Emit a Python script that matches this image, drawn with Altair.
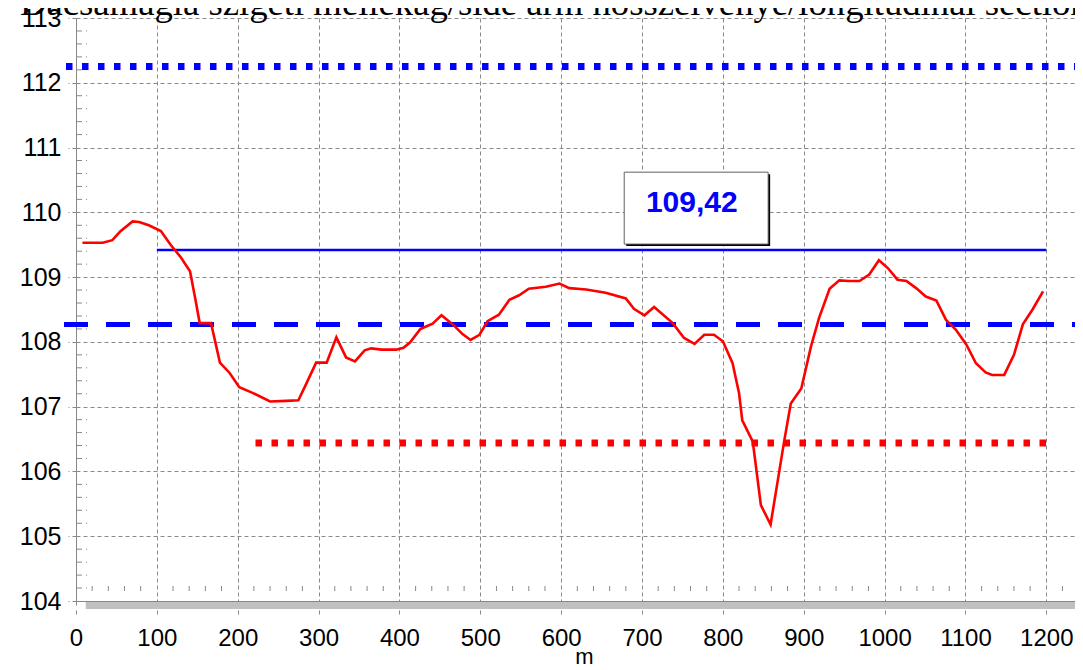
import altair as alt
import pandas as pd

TITLE = "Dacsamagla szigeti mellékág/side arm hosszelvénye/longitudinal section"

DIST = [8, 33, 45, 55, 70, 78, 90, 105, 117, 130, 141, 147, 153, 167, 178, 190,
        202, 219, 240, 260, 275, 285, 297, 310, 322, 334, 345, 357, 365, 378,
        396, 405, 413, 426, 441, 452, 466, 478, 488, 499, 509, 523, 536, 548,
        560, 581, 598, 610, 631, 655, 680, 690, 703, 715, 738, 752, 765, 777,
        789, 800, 812, 816, 820, 824, 837, 847, 859, 870, 876, 884, 897, 909,
        919, 932, 944, 956, 969, 981, 993, 1004, 1016, 1027, 1039, 1051, 1064,
        1076, 1088, 1101, 1113, 1125, 1133, 1148, 1160, 1171, 1183, 1196]
ELEV = [109.53, 109.53, 109.57, 109.71, 109.86, 109.85, 109.80, 109.71, 109.50,
        109.30, 109.09, 108.70, 108.29, 108.29, 107.68, 107.52, 107.30, 107.21,
        107.08, 107.09, 107.10, 107.36, 107.68, 107.68, 108.07, 107.76, 107.70,
        107.87, 107.90, 107.88, 107.88, 107.91, 107.99, 108.20, 108.28, 108.41,
        108.27, 108.12, 108.03, 108.11, 108.32, 108.42, 108.65, 108.72, 108.82,
        108.85, 108.90, 108.83, 108.81, 108.76, 108.67, 108.51, 108.41, 108.54,
        108.29, 108.06, 107.97, 108.11, 108.11, 108.01, 107.67, 107.44, 107.21,
        106.79, 106.46, 105.48, 105.18, 106.02, 106.48, 107.05, 107.28, 107.93,
        108.37, 108.82, 108.95, 108.94, 108.94, 109.04, 109.26, 109.14, 108.96,
        108.94, 108.83, 108.70, 108.64, 108.34, 108.19, 107.96, 107.67, 107.53,
        107.49, 107.49, 107.80, 108.27, 108.50, 108.78]

X_TICKS = list(range(0, 1201, 100))
Y_TICKS = list(range(104, 114))
X_MINOR = [v for v in range(20, 1235, 20) if v % 100]
Y_MINOR = [round(104 + i * 0.2, 1) for i in range(46) if i % 5]

BLUE_DOT = 112.25
BLUE_DASH = 108.27
BLUE_SOLID = 109.42
BLUE_SOLID_FROM, BLUE_SOLID_TO = 100, 1200
RED_DOT = 106.44
RED_DOT_FROM, RED_DOT_TO = 222, 1200
LABEL_TEXT = "109,42"
LABEL_X = 761.6
LABEL_Y = 110.15
BOX_X = [678, 856]
BOX_Y = [109.51, 110.62]
BAR_FROM = 12

W, H = 999, 583
X_MAX = 1235.5

xs = alt.Scale(domain=[0, X_MAX], nice=False, zero=False)
ys = alt.Scale(domain=[104, 113], nice=False, zero=False)

FONT = "Liberation Sans"
GRAY = "#888888"

x_axis = alt.Axis(values=X_TICKS, format="d", grid=True, gridColor=GRAY, gridDash=[4, 3],
                  gridWidth=1, domainColor=GRAY, domainWidth=1, tickColor=GRAY,
                  tickDash=[4, 5], tickSize=14, labelFont=FONT, labelFontSize=24,
                  labelColor="black", labelPadding=11, labelFlush=False, labelOverlap=False,
                  title="m", titleFont=FONT, titleFontSize=22, titleFontWeight="normal",
                  titleColor="black", titleX=508, titleY=62, titleBaseline="alphabetic",
                  titleAlign="center")
y_axis = alt.Axis(values=Y_TICKS, format="d", grid=True, gridColor=GRAY, gridDash=[4, 3],
                  gridWidth=1, domainColor=GRAY, domainWidth=1, tickColor=GRAY,
                  tickDash=[4, 3, 1, 3], tickSize=11, labelFont=FONT, labelFontSize=25,
                  labelColor="black", labelPadding=4, labelFlush=False, labelOverlap=False,
                  title=None)


def X(field):
    return alt.X(field, scale=xs, axis=x_axis)


def Y(field):
    return alt.Y(field, scale=ys, axis=y_axis)


profile = pd.DataFrame({"a": DIST, "v": ELEV})

bar = alt.Chart(pd.DataFrame({"a": [BAR_FROM], "b": [X_MAX]})).mark_rect(
    color="#c0c0c0").encode(
    x=X("a:Q"), x2="b:Q", y=alt.value(H + 1), y2=alt.value(H + 8))

xminor = alt.Chart(pd.DataFrame({"a": X_MINOR})).mark_rule(
    color=GRAY, strokeWidth=1).encode(
    x=X("a:Q"), y=alt.value(H - 15), y2=alt.value(H - 10))

yminor = alt.Chart(pd.DataFrame({"v": Y_MINOR})).mark_rule(
    color=GRAY, strokeWidth=1, strokeDash=[6, 4]).encode(
    y=Y("v:Q"), x=alt.value(0), x2=alt.value(11))

blue_dot = alt.Chart(pd.DataFrame({"v": [BLUE_DOT]})).mark_rule(
    color="#0000ff", strokeWidth=7, strokeDash=[6.5, 9.5], strokeCap="butt").encode(
    y=Y("v:Q"), x=alt.value(-10), x2=alt.value(W))

blue_dash = alt.Chart(pd.DataFrame({"v": [BLUE_DASH]})).mark_rule(
    color="#0000ff", strokeWidth=5, strokeDash=[24, 18], strokeCap="butt").encode(
    y=Y("v:Q"), x=alt.value(-12), x2=alt.value(W))

blue_solid = alt.Chart(pd.DataFrame({"a": [BLUE_SOLID_FROM], "b": [BLUE_SOLID_TO],
                                     "v": [BLUE_SOLID]})).mark_rule(
    color="#0000ff", strokeWidth=2.5).encode(
    x=X("a:Q"), x2="b:Q", y=Y("v:Q"))

red_dot = alt.Chart(pd.DataFrame({"a": [RED_DOT_FROM], "b": [RED_DOT_TO],
                                  "v": [RED_DOT]})).mark_rule(
    color="#ff0000", strokeWidth=7, strokeDash=[6.5, 9.5], strokeCap="butt").encode(
    x=X("a:Q"), x2="b:Q", y=Y("v:Q"))

line = alt.Chart(profile).mark_line(
    color="#ff0000", strokeWidth=2.6).encode(x=X("a:Q"), y=Y("v:Q"))

box_df = pd.DataFrame({"a": [BOX_X[0]], "b": [BOX_X[1]], "v": [BOX_Y[0]], "w": [BOX_Y[1]]})
shadow = alt.Chart(box_df).mark_rect(color="black", xOffset=2, yOffset=2,
                                     x2Offset=2, y2Offset=2).encode(
    x=X("a:Q"), x2="b:Q", y=Y("v:Q"), y2="w:Q")
box = alt.Chart(box_df).mark_rect(fill="white", stroke="#606060", strokeWidth=1).encode(
    x=X("a:Q"), x2="b:Q", y=Y("v:Q"), y2="w:Q")

label = alt.Chart(pd.DataFrame({"a": [LABEL_X], "v": [LABEL_Y], "t": [LABEL_TEXT]})).mark_text(
    font=FONT, fontSize=30, fontWeight="bold", color="#0000ff",
    align="center", baseline="middle").encode(x=X("a:Q"), y=Y("v:Q"), text="t:N")

title = alt.Chart(pd.DataFrame({"t": [TITLE]})).mark_text(
    font="Liberation Serif", fontSize=36.7, color="black", align="left",
    baseline="alphabetic").encode(x=alt.value(-56), y=alt.value(-3), text="t:N")

chart = alt.layer(bar, xminor, yminor, blue_dot, blue_dash, blue_solid, red_dot, line,
                  shadow, box, label, title).properties(
    width=W, height=H,
    autosize=alt.AutoSizeParams(type="none"),
    padding={"left": 68, "top": 10, "right": 0, "bottom": 67},
    background="white",
).configure_view(stroke=None)

chart.save("out.html", embed_options={"renderer": "svg", "actions": False})
